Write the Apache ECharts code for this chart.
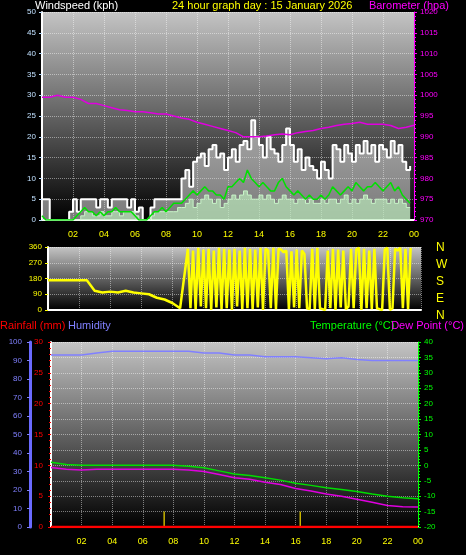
<!DOCTYPE html>
<html><head><meta charset="utf-8">
<script src="https://cdn.jsdelivr.net/npm/echarts@6/dist/echarts.min.js"></script>
<style>html,body{margin:0;background:#000}#c{width:466px;height:555px}</style>
</head><body><div id="c"></div>
<script>
// wind, 15 min steps from 00:00
var gust = [5,5,0,0, 0,0,0,2, 5,2,5,5, 5,5,3,5, 5,3,5,5, 5,5,3,5, 2,3,0,0, 3,5,5,5,
  5,5,5,5, 10,12,8,14, 15,16,13,17, 18,15,16,12, 15,17,14,18, 19,17,24,20, 18,15,20,17, 16,14,18,22,
  18,14,17,12, 15,13,12,10, 14,12,10,18, 17,14,18,16, 14,18,16,19, 16,18,14,18, 17,15,19,16, 18,14,12,13];
var avgWind = [1,0,0,0, 0,0,0,0, 0,1,2,3, 2,2,1,2, 1,2,2,3, 2,2,2,2, 1,0,0,0, 1,2,2,3,
  2,3,4,4, 4,5,6,7, 6,7,8,7, 7,6,6,5, 8,8,9,10, 9,12,10,9, 8,9,8,7, 7,9,10,8,
  7,6,7,6, 5,6,5,5, 6,5,6,8, 7,6,7,8, 7,9,8,7, 8,8,9,8, 7,8,9,7, 8,6,5,4];
var windSpd = [0,0,0,0, 0,0,0,0, 0,0,1,2, 2,1,1,2, 1,1,2,2, 1,2,2,2, 1,0,0,0, 1,2,2,2,
  2,2,2,3, 3,4,5,3, 4,5,6,5, 4,5,3,4, 5,6,5,6, 7,6,5,5, 6,5,6,5, 4,5,6,5,
  5,4,5,5, 4,5,4,4, 5,4,5,5, 4,5,6,4, 5,4,5,6, 5,4,5,5, 5,4,5,4, 5,4,3,3];
// barometer, 30 min steps
var baro = [999.5,999.5,1000,999.5,999.5,999,998,998,997.5,997,996.5,996.3,996,996,995.8,995.5,
  995.5,995,994.5,994.2,993.5,993,992.5,992,991.5,991,990,990,990,990.2,990.5,990.7,
  990.5,991,991.3,991.5,992,992.3,992.7,993,993.2,993.5,993,993,993,992.7,992,992.3,992.8];
// direction, 30 min steps until 09:00, then 10 min steps
var dirEarly = [170,170,170,170,170,170,110,100,105,100,110,100,95,90,70,60,40,10];
var dirLate = [350,10,340,5,355,20,345,10,350,0,340,15, 355,5,350,10,345,0,350,20,340,5,355,10,
  350,5,345,15,355,0,350,340,10,355,5,350, 345,330,340,5,335,15,345,10,340,320,10,5,
  350,5,355,10,5,0,340,10,350,0,345,15, 340,5,20,350,10,345,355,0,350,10,340,5,
  350,10,5,0,345,355,0,10,350,340,355,10, 350,5,355];
// hourly temperature / dew point / humidity / rain
var temp = [1,0.3,0,0,0,0,0,0,0,-0.3,-0.8,-1.8,-2.8,-3.3,-4,-4.8,-5.8,-6.5,-7.3,-7.8,-8.5,-9.3,-10,-10.5,-10.8];
var dew = [-0.7,-1.3,-1.5,-1.3,-1.3,-1.3,-1.3,-1.3,-1.3,-1.5,-2,-3,-4,-4.5,-5.5,-6.2,-7.5,-8.3,-9.3,-10,-11,-12,-13,-13.4,-13.5];
var hum = [93,93,94,95,95,95,95,95,95,94,94,93,93,92,92,92,91.5,91,91.5,90.5,90,90,90,90,90];
var rain = [0,0,0,0,0,0,0,0,0,0,0,0,0,0,0,0,0,0,0,0,0,0,0,0,0];
var tipTimes = [7.4, 16.3];
var tipVals = [2.5, 2.5];

function pairs(arr, step, t0) { return arr.map(function (v, i) { return [(t0 || 0) + i * step, v]; }); }
var dirData = pairs(dirEarly, 0.5).concat(pairs(dirLate, 1 / 6, 9));

var bg = new echarts.graphic.LinearGradient(0, 0, 0, 1, [{offset: 0, color: '#c4c4c4'}, {offset: 1, color: '#000'}]);
var split = {show: true, lineStyle: {color: '#ffffff', opacity: 0.45, type: 'dotted'}};
var fnt = 'Liberation Sans';
function hourAxis(gi, show) {
  return {type: 'value', gridIndex: gi, min: 0, max: 24, interval: 2,
    axisLine: {lineStyle: {color: '#fff', width: 2}}, axisTick: {show: false}, splitLine: split,
    axisLabel: {show: show, color: '#ffff00', fontSize: 9, fontFamily: fnt, margin: 10,
      formatter: function (v) { if (v === 0) return ''; v = v % 24; return (v < 10 ? '0' : '') + v; }}};
}
function yAx(gi, min, max, iv, col, pos, extra) {
  var a = {type: 'value', gridIndex: gi, min: min, max: max, interval: iv, position: pos,
    axisLine: {show: true, lineStyle: {color: col}}, axisTick: {show: true, length: 3, lineStyle: {color: col}},
    minorTick: {show: true, splitNumber: 5, length: 2, lineStyle: {color: col}},
    axisLabel: {color: col, fontSize: 8, fontFamily: fnt, margin: 6, formatter: function (v) { return String(v); }},
    splitLine: {show: false}};
  return Object.assign(a, extra || {});
}

var chart = echarts.init(document.getElementById('c'));
chart.setOption({
  backgroundColor: '#000',
  animation: false,
  textStyle: {fontFamily: fnt},
  graphic: [
    {type: 'text', left: 35, top: 0, style: {text: 'Windspeed (kph)', fill: '#fff', font: '11px ' + fnt}},
    {type: 'text', left: 172, top: 0, style: {text: '24 hour graph day : 15 January 2026', fill: '#ffff00', font: '11px ' + fnt}},
    {type: 'text', right: 17, top: 0, style: {text: 'Barometer (hpa)', fill: '#ff00ff', font: '11px ' + fnt}},
    {type: 'text', left: 436, top: 239, style: {text: 'N\nW\nS\nE\nN', fill: '#ffff00', font: '12px ' + fnt, lineHeight: 17}},
    {type: 'text', left: 0, top: 320, style: {text: 'Rainfall (mm)', fill: '#ff0000', font: '11px ' + fnt}},
    {type: 'text', left: 68, top: 320, style: {text: 'Humidity', fill: '#8080ff', font: '11px ' + fnt}},
    {type: 'text', left: 310, top: 320, style: {text: 'Temperature (°C)', fill: '#00ff00', font: '11px ' + fnt}},
    {type: 'text', right: 2, top: 320, style: {text: 'Dew Point (°C)', fill: '#ff00ff', font: '11px ' + fnt}}
  ],
  grid: [
    {left: 42, right: 52, top: 12, height: 208, show: true, backgroundColor: bg, borderWidth: 0},
    {left: 48, right: 45, top: 247, height: 63, show: true, backgroundColor: bg, borderWidth: 0},
    {left: 51, right: 48, top: 342, height: 185, show: true, backgroundColor: bg, borderWidth: 0}
  ],
  xAxis: [hourAxis(0, true), hourAxis(1, false), hourAxis(2, true)],
  yAxis: [
    yAx(0, 0, 50, 5, '#c0e0ff', 'left', {splitLine: split, minorTick: {show: false}, axisLine: {show: true, lineStyle: {color: '#ffffff', width: 2}}}),
    yAx(0, 970, 1020, 5, '#ff00ff', 'right'),
    yAx(1, 0, 360, 90, '#ffff00', 'left', {splitLine: split, minorTick: {show: false}, axisLine: {show: true, lineStyle: {color: '#fff', width: 2}}}),
    yAx(2, 0, 30, 5, '#ff0000', 'left', {axisLine: {show: true, lineStyle: {color: '#fff', width: 2}}, axisLabel: {color: '#ff0000', fontSize: 8, margin: 8}}),
    yAx(2, 0, 100, 10, '#8080ff', 'left', {offset: 21, minorTick: {show: false}, axisLine: {show: true, lineStyle: {color: '#6a6aff', width: 3}}, axisLabel: {color: '#8080ff', fontSize: 8, margin: 8}}),
    yAx(2, -20, 40, 5, '#00ff00', 'right', {splitLine: split})
  ],
  series: [
    {type: 'line', xAxisIndex: 0, yAxisIndex: 0, data: pairs(gust, 0.25), step: 'end', symbol: 'none',
      lineStyle: {color: '#ffffff', width: 2}, areaStyle: {color: 'rgba(235,235,235,0.75)'}},
    {type: 'line', xAxisIndex: 0, yAxisIndex: 0, data: pairs(windSpd, 0.25), step: 'end', symbol: 'none',
      lineStyle: {color: '#c8f5c8', width: 1}, areaStyle: {color: 'rgba(190,240,190,0.9)'}},
    {type: 'line', xAxisIndex: 0, yAxisIndex: 0, data: pairs(avgWind, 0.25), symbol: 'none',
      lineStyle: {color: '#00e000', width: 1.5}},
    {type: 'line', xAxisIndex: 0, yAxisIndex: 1, data: pairs(baro, 0.5), symbol: 'none',
      lineStyle: {color: '#e000e0', width: 1.5}},
    {type: 'line', xAxisIndex: 1, yAxisIndex: 2, data: dirData, symbol: 'none',
      lineStyle: {color: '#ffff00', width: 2.5}},
    {type: 'line', xAxisIndex: 2, yAxisIndex: 4, data: pairs(hum, 1), step: 'end', symbol: 'none',
      lineStyle: {color: '#8080ff', width: 1.5}},
    {type: 'line', xAxisIndex: 2, yAxisIndex: 5, data: pairs(temp, 1), symbol: 'none',
      lineStyle: {color: '#00dd00', width: 1.5}},
    {type: 'line', xAxisIndex: 2, yAxisIndex: 5, data: pairs(dew, 1), symbol: 'none',
      lineStyle: {color: '#e000e0', width: 1.5}},
    {type: 'line', xAxisIndex: 2, yAxisIndex: 3, data: pairs(rain, 1), symbol: 'none',
      lineStyle: {color: '#ff0000', width: 2.5}},
    {type: 'bar', xAxisIndex: 2, yAxisIndex: 3, barWidth: 1.5,
      data: tipTimes.map(function (t, i) { return [t, tipVals[i]]; }), itemStyle: {color: '#c8b400'}}
  ]
});
</script></body></html>
